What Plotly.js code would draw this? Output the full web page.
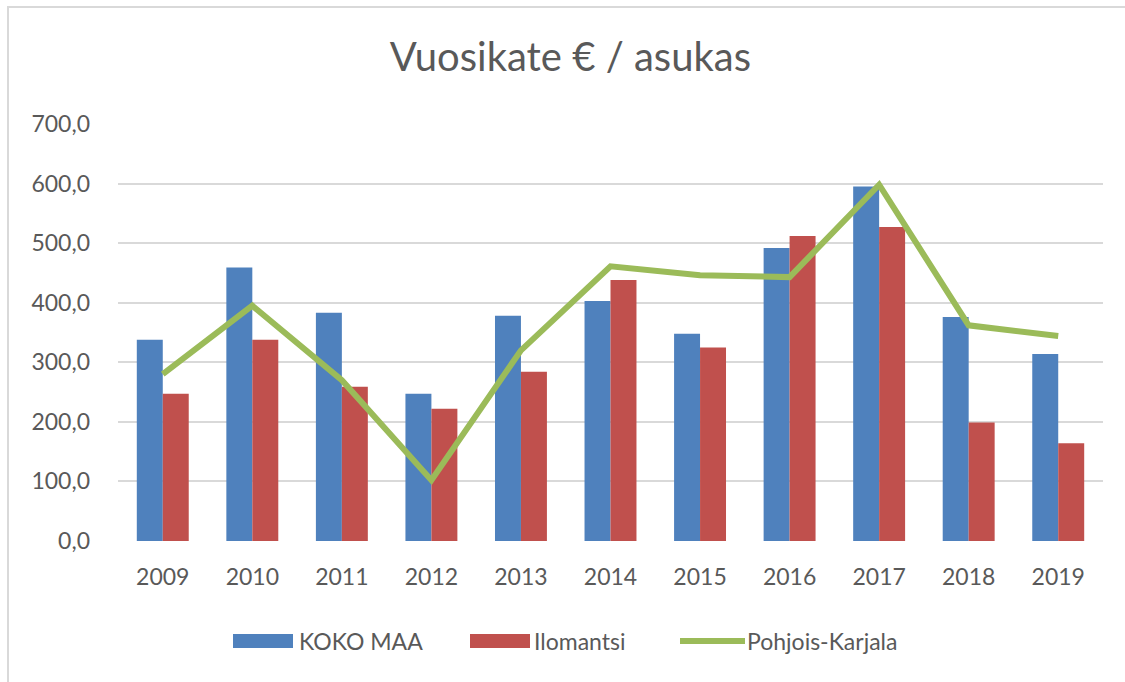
<!DOCTYPE html>
<html>
<head>
<meta charset="utf-8">
<script src="https://cdn.plot.ly/plotly-3.0.1.min.js"></script>
<style>
  html, body { margin: 0; padding: 0; background: #ffffff; }
  #wrap { position: relative; width: 1125px; height: 682px; overflow: hidden; }
  #chart { width: 1125px; height: 682px; }
  #frame { position: absolute; left: 7px; top: 6px; width: 1130px; height: 690px;
           border-top: 2px solid #d9d9d9; border-left: 2px solid #d9d9d9; pointer-events: none; }
</style>
</head>
<body>
<div id="wrap">
  <div id="chart"></div>
  <div id="frame"></div>
</div>
<script>
const years = ['2009','2010','2011','2012','2013','2014','2015','2016','2017','2018','2019'];
const kokoMaa = [338, 459, 383, 247, 378, 403, 348, 492, 595, 376, 314];
const ilomantsi = [247, 338, 259, 222, 284, 438, 325, 512, 527, 199, 164];
const pohjoisKarjala = [280, 395, 270, 102, 320, 461, 446, 443, 598, 362, 344];
const seriesNames = ['KOKO MAA', 'Ilomantsi', 'Pohjois-Karjala'];
const seriesColors = ['#4F81BD', '#C0504D', '#9BBB59'];
const titleText = 'Vuosikate € / asukas';

const font = 'Lato, "Open Sans", sans-serif';
const textColor = '#595959';

const traces = [
  { type: 'bar', name: seriesNames[0], x: years, y: kokoMaa,
    marker: { color: seriesColors[0] } },
  { type: 'bar', name: seriesNames[1], x: years, y: ilomantsi,
    marker: { color: seriesColors[1] } },
  { type: 'scatter', mode: 'lines', name: seriesNames[2], x: years, y: pohjoisKarjala,
    line: { color: seriesColors[2], width: 6 } }
];

// Custom legend (Excel-style wide swatches), placed in paper coordinates
const M = { l: 118, r: 22, t: 124, b: 141 };
const W = 1125, H = 682;
const pw = W - M.l - M.r, ph = H - M.t - M.b;
const px = v => (v - M.l) / pw;
const py = v => (H - M.b - v) / ph;
const legendItems = [
  { kind: 'rect', x0: 233, x1: 293, text: 297 },
  { kind: 'rect', x0: 470, x1: 530, text: 532 },
  { kind: 'line', x0: 680, x1: 745, text: 745 }
];
const legendY = 641;
const shapes = [], annotations = [];
legendItems.forEach((it, i) => {
  if (it.kind === 'rect') {
    shapes.push({ type: 'rect', xref: 'paper', yref: 'paper',
      x0: px(it.x0), x1: px(it.x1), y0: py(legendY + 7), y1: py(legendY - 7),
      fillcolor: seriesColors[i], line: { width: 0 } });
  } else {
    shapes.push({ type: 'line', xref: 'paper', yref: 'paper',
      x0: px(it.x0), x1: px(it.x1), y0: py(legendY), y1: py(legendY),
      line: { color: seriesColors[i], width: 6 } });
  }
  annotations.push({ xref: 'paper', yref: 'paper', x: px(it.text), y: py(legendY),
    xanchor: 'left', yanchor: 'middle', showarrow: false, text: seriesNames[i],
    font: { family: font, size: 23, color: textColor } });
});

const layout = {
  width: W, height: H,
  paper_bgcolor: '#ffffff', plot_bgcolor: '#ffffff',
  margin: M,
  font: { family: font, color: textColor, size: 23 },
  separators: ', ',
  title: { text: titleText, font: { family: font, size: 40, color: textColor },
           x: 0.507, xref: 'container', xanchor: 'center',
           y: 1 - 57/682, yref: 'container', yanchor: 'middle' },
  barmode: 'group', bargap: 0.42, bargroupgap: 0,
  xaxis: { type: 'category', showgrid: false, zeroline: false, showline: false,
           ticks: '', ticklabelstandoff: 20,
           tickfont: { family: font, size: 23, color: textColor } },
  yaxis: { range: [0, 700], dtick: 100, tick0: 0, tickformat: '.1f',
           showgrid: true, gridcolor: '#d9d9d9', gridwidth: 2,
           zeroline: false, showline: false, ticks: '', ticklabelstandoff: 27,
           tickfont: { family: font, size: 23, color: textColor } },
  showlegend: false,
  shapes: shapes,
  annotations: annotations,
  hovermode: false
};

Plotly.newPlot('chart', traces, layout, { staticPlot: true, displayModeBar: false });
</script>
</body>
</html>
